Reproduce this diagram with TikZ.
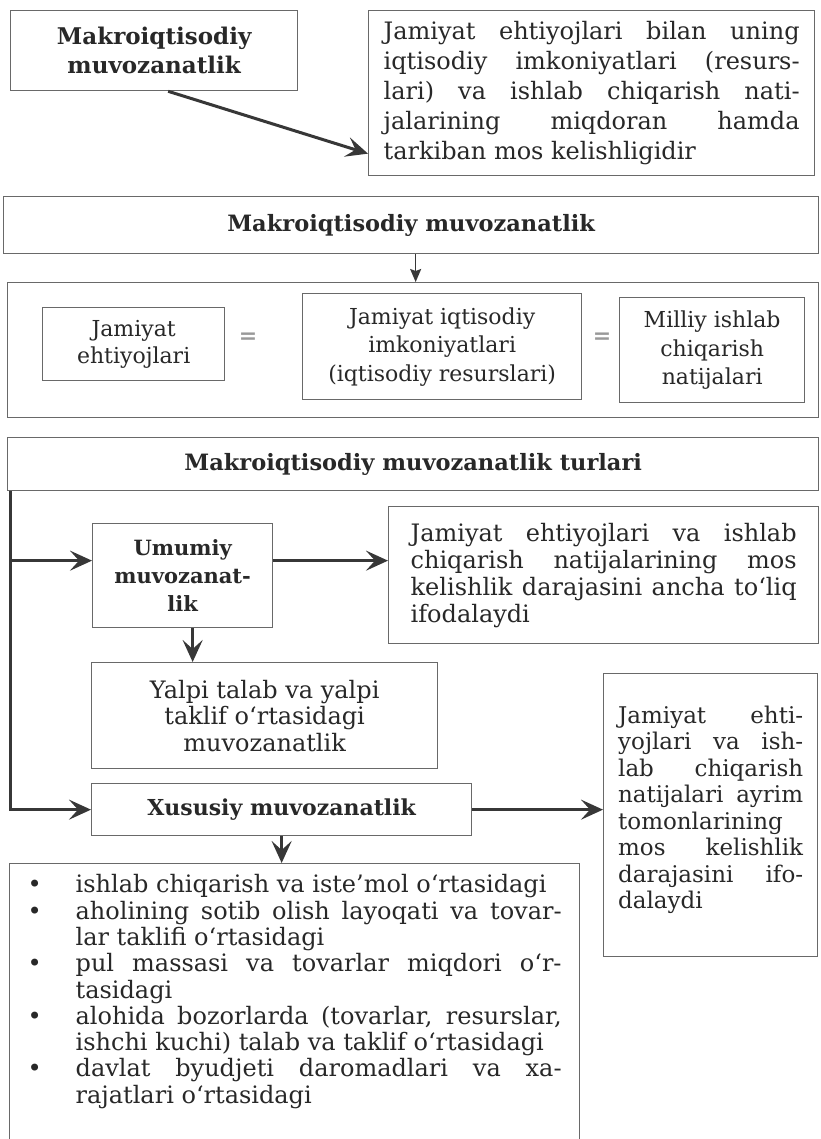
\documentclass[tikz,border=0pt]{standalone}
\usepackage{fontspec}
\setmainfont{DejaVu Serif}
\usetikzlibrary{arrows.meta}
\definecolor{ink}{RGB}{40,40,40}
\definecolor{frame}{RGB}{105,105,105}
\definecolor{arrowc}{RGB}{55,55,55}
\newcommand\jfl[2]{\makebox[#1][s]{#2}}
\newcommand\lfl[2]{\makebox[#1][l]{#2}}
\newcommand\bdot{\makebox[55pt][l]{\hspace*{7pt}{\fontsize{24}{24}\selectfont •}}}
\newcommand\bind{\hspace*{55pt}}
\newcommand\bline[1]{\makebox[548pt][l]{#1}}
\begin{document}
\begin{tikzpicture}[x=1pt,y=-1pt,
  box/.style={draw=frame,line width=1.3pt,inner sep=0pt,text=ink,anchor=north west},
  boldtxt/.style={font=\fontsize{22.5}{28}\selectfont\bfseries},
  bigarrow/.style={draw=arrowc,line width=3pt,-{Stealth[length=22pt,width=20pt,inset=9pt]}},
  smallarrow/.style={draw=arrowc,line width=1.6pt,-{Stealth[length=13pt,width=11pt,inset=2pt]}},
  eqsign/.style={text=gray!80,font=\fontsize{22}{22}\selectfont\bfseries,inner sep=0pt}
]
\useasboundingbox (0,0) rectangle (820,1139);
\fill[white] (0,0) rectangle (820,1139);
\clip (0,0) rectangle (820,1139);

% top pair
\node[box,minimum width=287pt,minimum height=80pt,align=center,
      font=\fontsize{23}{29}\selectfont\bfseries] (b1) at (10,10)
  {Makroiqtisodiy\\muvozanatlik};
\node[box,minimum width=446pt,minimum height=165pt,align=left,
      font=\fontsize{24}{30}\selectfont] (b2) at (368,10)
  {\jfl{416pt}{Jamiyat ehtiyojlari bilan uning}\\
   \jfl{416pt}{iqtisodiy imkoniyatlari (resurs-}\\
   \jfl{416pt}{lari) va ishlab chiqarish nati-}\\
   \jfl{416pt}{jalarining miqdoran hamda}\\
   \lfl{416pt}{tarkiban mos kelishligidir}};
\draw[bigarrow] ([xshift=14pt]b1.south) -- ([yshift=-60.5pt]b2.west);

% second section
\node[box,boldtxt,minimum width=815pt,minimum height=57pt] (b3) at (3,196)
  {Makroiqtisodiy muvozanatlik};
\node[box,minimum width=811pt,minimum height=135pt] (b4) at (7,282) {};
\coordinate (a1) at ([xshift=4.5pt]b3.south);
\draw[smallarrow] (a1) -- (a1 |- b4.north);
\node[box,minimum width=182pt,minimum height=73pt,align=center,
      font=\fontsize{22}{27}\selectfont] (m1) at (42,307)
  {Jamiyat\\ehtiyojlari};
\node[box,minimum width=279pt,minimum height=106pt,align=center,
      font=\fontsize{22}{28.5}\selectfont] (m2) at (302,293)
  {Jamiyat iqtisodiy\\imkoniyatlari\\(iqtisodiy resurslari)};
\node[box,minimum width=185pt,minimum height=105pt,align=center,
      font=\fontsize{22}{28.5}\selectfont] (m3) at (619,297)
  {Milliy ishlab\\chiqarish\\natijalari};
\node[eqsign] (e1) at (248,338) {=};
\node[eqsign] (e2) at (602,338) {=};

% third section
\node[box,boldtxt,minimum width=811pt,minimum height=53pt] (t5) at (7,437)
  {Makroiqtisodiy muvozanatlik turlari};
\node[box,minimum width=180pt,minimum height=104pt,align=center,
      font=\fontsize{21}{28}\selectfont\bfseries] (u) at (92,523)
  {Umumiy\\muvozanat-\\lik};
\node[box,minimum width=430pt,minimum height=137pt,align=left,
      font=\fontsize{24}{27}\selectfont] (r1) at (388,506)
  {\jfl{386pt}{Jamiyat ehtiyojlari va ishlab}\\
   \jfl{386pt}{chiqarish natijalarining mos}\\
   \jfl{386pt}{kelishlik darajasini ancha toʻliq}\\
   \lfl{386pt}{ifodalaydi}};
\node[box,minimum width=346pt,minimum height=106pt,align=center,
      font=\fontsize{24}{26.5}\selectfont] (ya) at (91,662)
  {Yalpi talab va yalpi\\taklif oʻrtasidagi\\muvozanatlik};
\node[box,boldtxt,minimum width=380pt,minimum height=52pt,font=\fontsize{22}{28}\selectfont\bfseries] (xs) at (91,783)
  {Xususiy muvozanatlik};
\node[box,minimum width=214pt,minimum height=283pt,align=left,
      font=\fontsize{23}{26.5}\selectfont] (r2) at (603,673)
  {\jfl{185pt}{Jamiyat ehti-}\\
   \jfl{185pt}{yojlari va ish-}\\
   \jfl{185pt}{lab chiqarish}\\
   \jfl{185pt}{natijalari ayrim}\\
   \lfl{185pt}{tomonlarining}\\
   \jfl{185pt}{mos kelishlik}\\
   \jfl{185pt}{darajasini ifo-}\\
   \lfl{185pt}{dalaydi\rule[-16pt]{0pt}{0pt}}};
\node[box,minimum width=570pt,inner ysep=11pt,
      align=left,font=\fontsize{24}{26.3}\selectfont] (bl) at (9,863)
  {\bline{\bdot\lfl{486pt}{ishlab chiqarish va iste’mol oʻrtasidagi}}\\
   \bline{\bdot\jfl{486pt}{aholining sotib olish layoqati va tovar-}}\\
   \bline{\bind\lfl{486pt}{lar taklifi oʻrtasidagi}}\\
   \bline{\bdot\jfl{486pt}{pul massasi va tovarlar miqdori oʻr-}}\\
   \bline{\bind\lfl{486pt}{tasidagi}}\\
   \bline{\bdot\jfl{486pt}{alohida bozorlarda (tovarlar, resurslar,}}\\
   \bline{\bind\lfl{486pt}{ishchi kuchi) talab va taklif oʻrtasidagi}}\\
   \bline{\bdot\jfl{486pt}{davlat byudjeti daromadlari va xa-}}\\
   \bline{\bind\lfl{486pt}{rajatlari oʻrtasidagi\rule[-60pt]{0pt}{0pt}}}};

% connectors of third section
\coordinate (L0) at ([xshift=3pt]t5.south west);
\coordinate (uin) at ([yshift=15pt]u.west);
\draw[bigarrow] (L0) |- (xs.west);
\draw[bigarrow] (L0 |- uin) -- (uin);
\draw[bigarrow] (uin -| u.east) -- (uin -| r1.west);
\coordinate (ud) at ([xshift=10pt]u.south);
\draw[bigarrow] (ud) -- (ud |- ya.north);
\draw[bigarrow] (xs.east) -- (xs.east -| r2.west);
\draw[bigarrow] (xs.south) -- (xs.south |- bl.north);
\end{tikzpicture}
\end{document}
